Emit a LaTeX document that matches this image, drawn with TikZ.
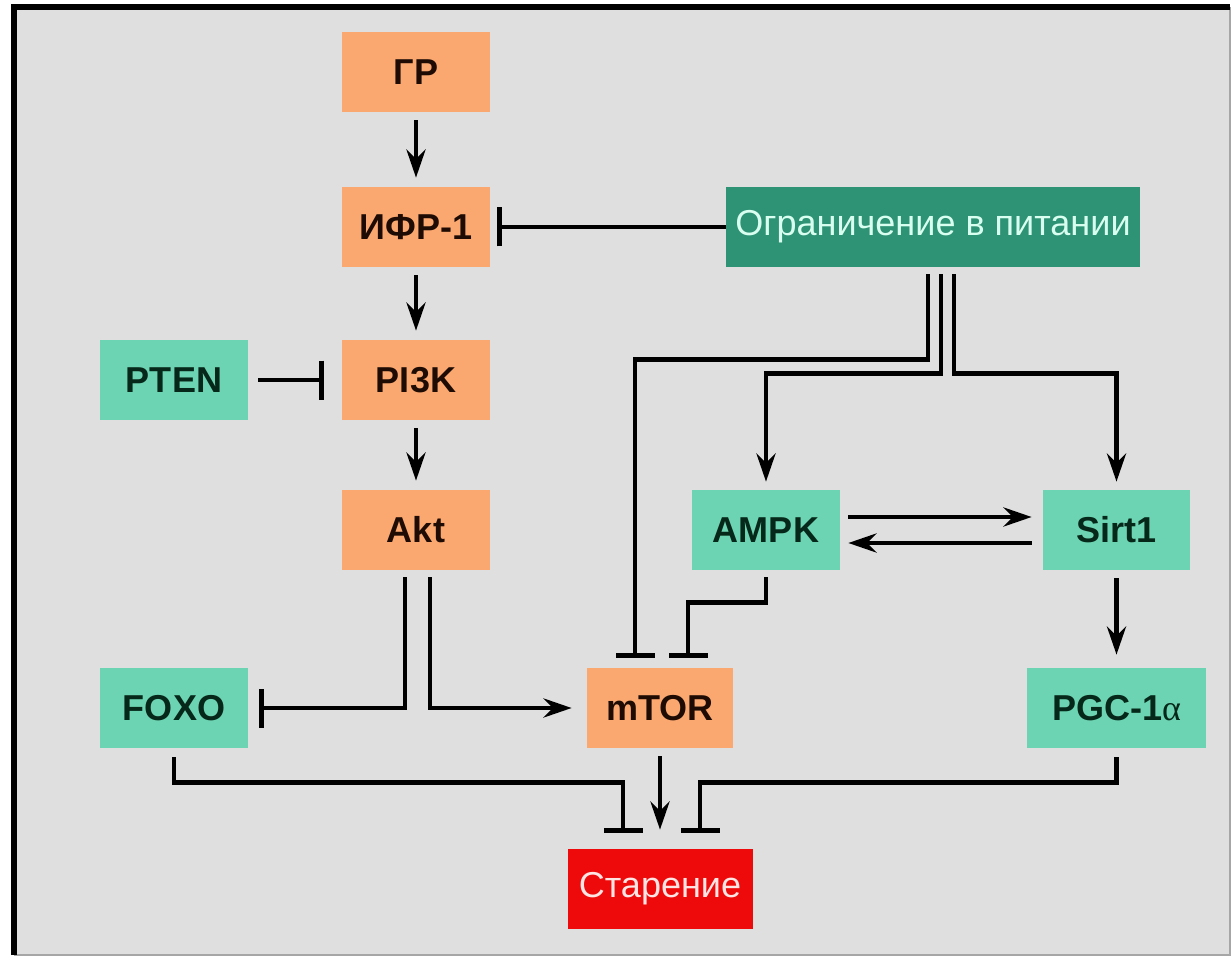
\documentclass[tikz,border=0pt]{standalone}
\usepackage{fontspec}
\setmainfont{Liberation Sans}
\newfontfamily\grk{Liberation Serif}
\usetikzlibrary{arrows.meta}
\definecolor{fond}{HTML}{DFDFDF}
\definecolor{peche}{HTML}{FBA870}
\definecolor{menthe}{HTML}{6CD4B2}
\definecolor{sapin}{HTML}{2E9275}
\definecolor{rouge}{HTML}{EE0A0A}
\definecolor{brun}{HTML}{1E0C04}
\definecolor{vertfonce}{HTML}{06281A}
\definecolor{clair}{HTML}{D8FFF0}
\definecolor{rose}{HTML}{FFE4E4}

\begin{document}
\begin{tikzpicture}[
    box/.style={minimum height=1.6cm, inner sep=0pt, font=\fontsize{20.5}{24}\selectfont\bfseries},
    peach/.style={box, fill=peche, text=brun, minimum width=2.96cm},
    mint/.style={box, fill=menthe, text=vertfonce, minimum width=2.96cm},
    act/.style={-{Stealth[length=0.56cm, width=0.38cm]}, line width=2.6pt},
    inh/.style={-{Bar[width=0.78cm]}, line width=2.6pt}]
    \useasboundingbox (0,0) rectangle (24.64,-19.14);
    % cadre
    \fill[fond] (0.28,-0.14) rectangle (24.6,-19.1);
    \draw[black!35, line width=0.8pt] (24.6,-0.14) -- (24.6,-19.1) -- (0.28,-19.1);
    \draw[black, line width=3pt] (0.28,-19.1) -- (0.28,-0.14) -- (24.6,-0.14);

    \node[peach] (gr) at (8.32,-1.44) {ГР};
    \node[peach] (ifr) at (8.32,-4.54) {ИФР-1};
    \node[peach] (pik) at (8.32,-7.6) {PI3K};
    \node[peach] (akt) at (8.32,-10.6) {Akt};
    \node[mint] (pten) at (3.48,-7.6) {PTEN};
    \node[mint] (foxo) at (3.48,-14.16) {FOXO};
    \node[peach, minimum width=2.92cm] (mtor) at (13.2,-14.16) {mTOR};
    \node[box, fill=rouge, text=rose, font=\fontsize{20.5}{24}\selectfont, minimum width=3.7cm] (star) at (13.2,-17.78) {Старение};
    \node[box, fill=sapin, text=clair, font=\fontsize{20.5}{24}\selectfont, minimum width=8.28cm] (diet) at (18.66,-4.54) {Ограничение в питании};
    \node[mint] (ampk) at (15.32,-10.6) {AMPK};
    \node[mint, minimum width=2.94cm] (sirt) at (22.33,-10.6) {Sirt1};
    \node[mint, minimum width=3.58cm] (pgc) at (22.33,-14.16) {PGC-1{\grk\mdseries α}};

    % colonne de gauche
    \draw[act, shorten <=0.16cm, shorten >=0.18cm] (gr) -- (ifr);
    \draw[act, shorten <=0.16cm, shorten >=0.18cm] (ifr) -- (pik);
    \draw[act, shorten <=0.16cm, shorten >=0.18cm] (pik) -- (akt);
    \draw[inh, shorten <=0.2cm, shorten >=0.36cm] (pten) -- (pik);
    \draw[inh, shorten >=0.14cm] (diet) -- (ifr);
    \draw[inh, shorten <=0.14cm, shorten >=0.22cm] ([xshift=-0.22cm]akt.south) |- (foxo.east);
    \draw[act, shorten <=0.14cm, shorten >=0.3cm] ([xshift=0.28cm]akt.south) |- (mtor.west);

    % les trois voies de la restriction
    \draw[inh, shorten <=0.14cm, shorten >=0.2cm] ([xshift=-0.1cm]diet.south) -- ++(0,-1.84) -| ([xshift=-0.5cm]mtor.north);
    \draw[act, shorten <=0.14cm, shorten >=0.16cm] ([xshift=0.16cm]diet.south) -- ++(0,-2.12) -| (ampk.north);
    \draw[act, shorten <=0.14cm, shorten >=0.16cm] ([xshift=0.42cm]diet.south) -- ++(0,-2.12) -| (sirt.north);

    \draw[act, shorten <=0.16cm, shorten >=0.22cm] ([yshift=0.26cm]ampk.east) -- ([yshift=0.26cm]sirt.west);
    \draw[act, shorten <=0.22cm, shorten >=0.16cm] ([yshift=-0.26cm]sirt.west) -- ([yshift=-0.26cm]ampk.east);
    \draw[act, shorten <=0.16cm, shorten >=0.26cm] (sirt) -- (pgc);
    \draw[inh, shorten <=0.14cm, shorten >=0.2cm] (ampk.south) -- ++(0,-0.64) -| ([xshift=0.56cm]mtor.north);

    % vers le vieillissement
    \draw[act, shorten <=0.16cm, shorten >=0.38cm] (mtor) -- (star);
    \draw[inh, shorten <=0.18cm, shorten >=0.32cm] (foxo.south) -- ++(0,-0.68) -| ([xshift=-0.74cm]star.north);
    \draw[inh, shorten <=0.18cm, shorten >=0.32cm] (pgc.south) -- ++(0,-0.68) -| ([xshift=0.8cm]star.north);
\end{tikzpicture}
\end{document}
